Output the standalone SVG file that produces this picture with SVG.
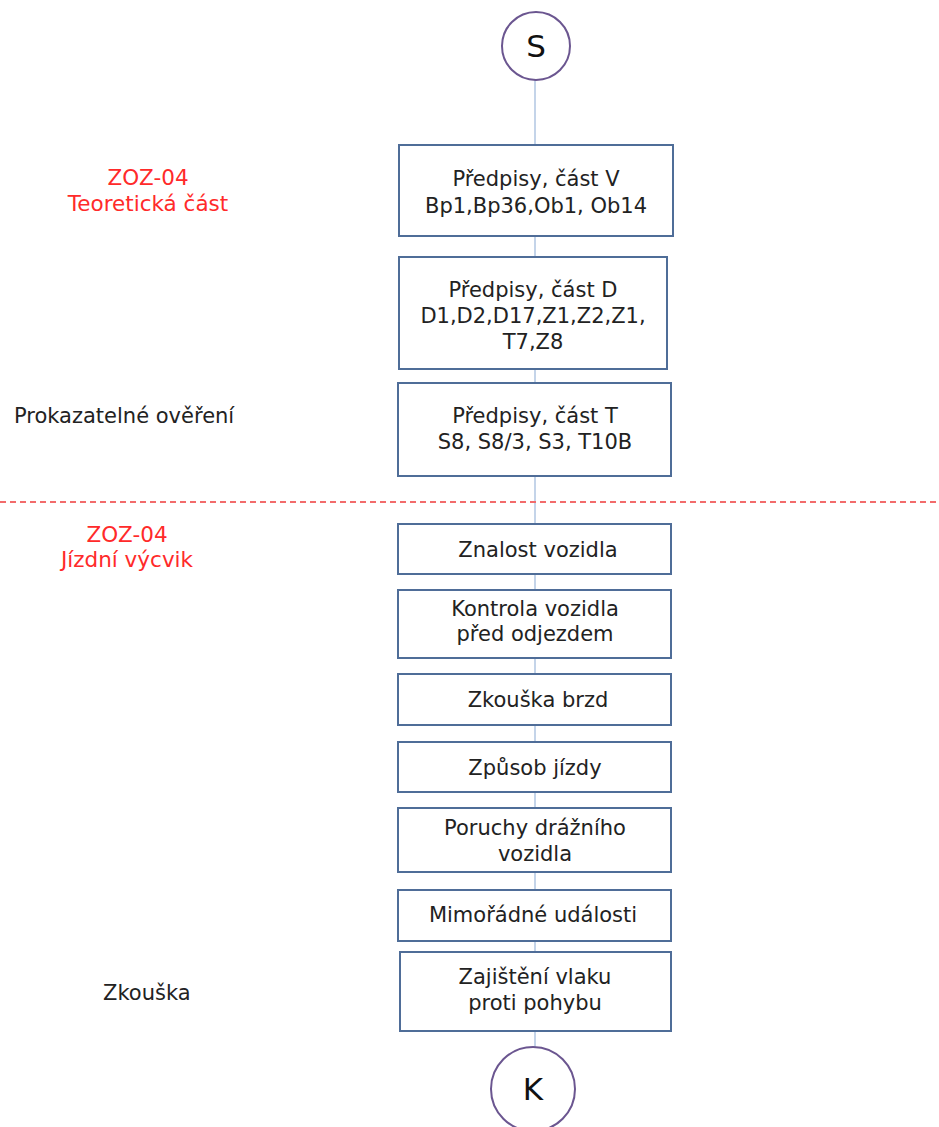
<svg xmlns="http://www.w3.org/2000/svg" width="939" height="1127" viewBox="0 0 939 1127">
  <style>
    .box { fill: #ffffff; stroke: #4f6d98; stroke-width: 2; }
    .term { fill: #ffffff; stroke: #6b5690; stroke-width: 2; }
    .link { stroke: #9db8da; stroke-width: 1.2; fill: none; }
    .sep { stroke: #f26b6b; stroke-width: 2; stroke-dasharray: 6 4; fill: none; }
    .t { font-family: "DejaVu Sans", Verdana, sans-serif; font-size: 21px; fill: #222222; text-anchor: middle; }
    .big { font-family: "DejaVu Sans", Verdana, sans-serif; font-size: 31px; fill: #111111; text-anchor: middle; }
    .side { font-family: "DejaVu Sans", Verdana, sans-serif; font-size: 21px; fill: #222222; }
    .red { font-family: "DejaVu Sans", Verdana, sans-serif; font-size: 21.5px; fill: #ff2a2a; text-anchor: middle; }
  </style>

  <rect width="939" height="1127" fill="#ffffff"/>

  <!-- connectors -->
  <g id="connectors">
    <line class="link" x1="535" y1="80" x2="535" y2="145"/>
    <line class="link" x1="535" y1="236" x2="535" y2="257"/>
    <line class="link" x1="535" y1="369" x2="535" y2="383"/>
    <line class="link" x1="535" y1="476" x2="535" y2="524"/>
    <line class="link" x1="535" y1="574" x2="535" y2="590"/>
    <line class="link" x1="535" y1="658" x2="535" y2="674"/>
    <line class="link" x1="535" y1="725" x2="535" y2="742"/>
    <line class="link" x1="535" y1="792" x2="535" y2="808"/>
    <line class="link" x1="535" y1="872" x2="535" y2="890"/>
    <line class="link" x1="535" y1="941" x2="535" y2="952"/>
    <line class="link" x1="535" y1="1031" x2="535" y2="1047"/>
  </g>

  <!-- section divider -->
  <line class="sep" x1="0" y1="502" x2="939" y2="502"/>

  <!-- side labels -->
  <g id="label-teorie">
    <text class="red" x="148" y="185">ZOZ-04</text>
    <text class="red" x="148" y="211">Teoretická část</text>
  </g>
  <g id="label-overeni">
    <text class="side" x="14" y="423">Prokazatelné ověření</text>
  </g>
  <g id="label-vycvik">
    <text class="red" x="127" y="542">ZOZ-04</text>
    <text class="red" x="127" y="567">Jízdní výcvik</text>
  </g>
  <g id="label-zkouska">
    <text class="side" x="103" y="1000">Zkouška</text>
  </g>

  <!-- start -->
  <g id="start">
    <circle class="term" cx="536" cy="46" r="34"/>
    <text class="big" x="536" y="57">S</text>
  </g>

  <g id="n1">
    <rect class="box" x="399" y="145" width="274" height="91"/>
    <text class="t" x="536" y="186">Předpisy, část V</text>
    <text class="t" x="536" y="213">Bp1,Bp36,Ob1, Ob14</text>
  </g>

  <g id="n2">
    <rect class="box" x="399" y="257" width="268" height="112"/>
    <text class="t" x="533" y="297">Předpisy, část D</text>
    <text class="t" x="533" y="323">D1,D2,D17,Z1,Z2,Z1,</text>
    <text class="t" x="533" y="349">T7,Z8</text>
  </g>

  <g id="n3">
    <rect class="box" x="398" y="383" width="273" height="93"/>
    <text class="t" x="535" y="423">Předpisy, část T</text>
    <text class="t" x="535" y="449">S8, S8/3, S3, T10B</text>
  </g>

  <g id="n4">
    <rect class="box" x="398" y="524" width="273" height="50"/>
    <text class="t" x="538" y="557">Znalost vozidla</text>
  </g>

  <g id="n5">
    <rect class="box" x="398" y="590" width="273" height="68"/>
    <text class="t" x="535" y="616">Kontrola vozidla</text>
    <text class="t" x="535" y="641">před odjezdem</text>
  </g>

  <g id="n6">
    <rect class="box" x="398" y="674" width="273" height="51"/>
    <text class="t" x="538" y="707">Zkouška brzd</text>
  </g>

  <g id="n7">
    <rect class="box" x="398" y="742" width="273" height="50"/>
    <text class="t" x="535" y="775">Způsob jízdy</text>
  </g>

  <g id="n8">
    <rect class="box" x="398" y="808" width="273" height="64"/>
    <text class="t" x="535" y="835">Poruchy drážního</text>
    <text class="t" x="535" y="861">vozidla</text>
  </g>

  <g id="n9">
    <rect class="box" x="398" y="890" width="273" height="51"/>
    <text class="t" x="533" y="922">Mimořádné události</text>
  </g>

  <g id="n10">
    <rect class="box" x="400" y="952" width="271" height="79"/>
    <text class="t" x="535" y="984">Zajištění vlaku</text>
    <text class="t" x="535" y="1010">proti pohybu</text>
  </g>

  <!-- end -->
  <g id="end">
    <circle class="term" cx="533" cy="1089" r="42"/>
    <text class="big" x="533" y="1100">K</text>
  </g>
</svg>
